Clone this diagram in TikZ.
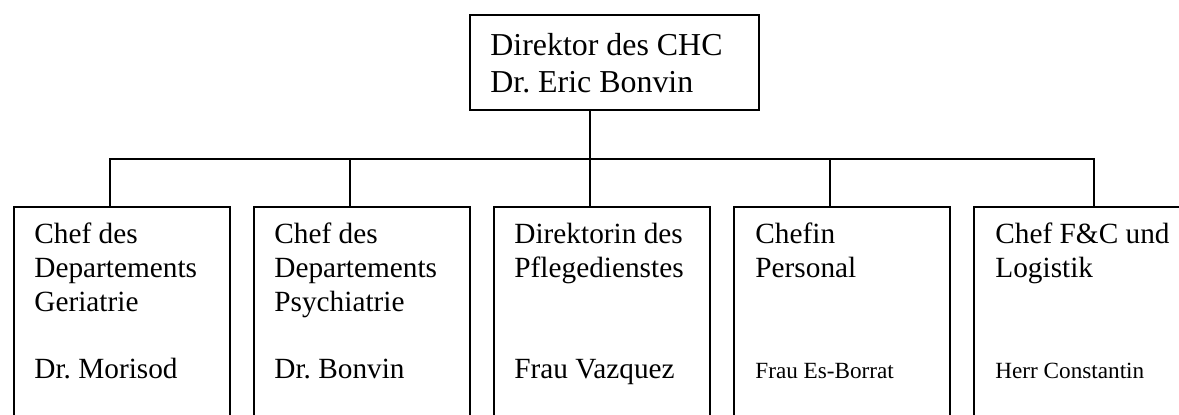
\documentclass[tikz,border=0pt]{standalone}
\usepackage{fontspec}
\setmainfont{Liberation Serif}
\begin{document}
\frenchspacing
\begin{tikzpicture}[x=0.5pt,y=-0.5pt,
  box/.style={draw,line width=1pt,inner sep=0pt,outer sep=0pt,anchor=north west,minimum width=108pt,minimum height=115pt},
  topbox/.style={draw,line width=1pt,inner sep=0pt,outer sep=0pt,anchor=north west,minimum width=144.5pt,minimum height=47.5pt},
  conn/.style={line width=1pt},
  txt/.style={anchor=base west,inner sep=0pt,font=\frenchspacing\fontsize{14.65}{17}\selectfont},
  toptxt/.style={anchor=base west,inner sep=0pt,font=\frenchspacing\fontsize{15.95}{18}\selectfont},
  smalltxt/.style={anchor=base west,inner sep=0pt,font=\frenchspacing\fontsize{11.6}{14}\selectfont}]
\useasboundingbox (0,0) rectangle (1179,414);
\clip (0,0) rectangle (1179,414);
% boxes
\node[topbox] (dir) at (470,15) {};
\node[box] (b1) at (14,207) {};
\node[box] (b2) at (254,207) {};
\node[box] (b3) at (494,207) {};
\node[box] (b4) at (734,207) {};
\node[box] (b5) at (974,207) {};
% connector coordinates
\coordinate (bus) at (590,159);
\coordinate (s1) at (110,159);
\coordinate (s2) at (350,159);
\coordinate (s3) at (590,159);
\coordinate (s4) at (830,159);
\coordinate (s5) at (1094,159);
\draw[conn] (dir.south -| bus) -- (bus);
\draw[conn] (b1.north -| s1) -- (s1) -- (s5) -- (b5.north -| s5);
\draw[conn] (s2) -- (b2.north -| s2);
\draw[conn] (s3) -- (b3.north -| s3);
\draw[conn] (s4) -- (b4.north -| s4);
% texts
\node[toptxt] (d1) at (490,55) {Direktor des CHC};
\node[toptxt] (d2) at (490,92) {Dr. Eric Bonvin};
\node[txt] (a1) at (34,243) {Chef des};
\node[txt] (a2) at (34,277) {Departements};
\node[txt] (a3) at (34,311) {Geriatrie};
\node[txt] (a4) at (34,378) {Dr. Morisod};
\node[txt] (p1) at (274,243) {Chef des};
\node[txt] (p2) at (274,277) {Departements};
\node[txt] (p3) at (274,311) {Psychiatrie};
\node[txt] (p4) at (274,378) {Dr. Bonvin};
\node[txt] (c1) at (514,243) {Direktorin des};
\node[txt] (c2) at (514,277) {Pflegedienstes};
\node[txt] (c4) at (514,378) {Frau Vazquez};
\node[txt] (e1) at (755,243) {Chefin};
\node[txt] (e2) at (755,277) {Personal};
\node[smalltxt] (e4) at (755,378) {Frau Es-Borrat};
\node[txt] (f1) at (995,243) {Chef F\&C und};
\node[txt] (f2) at (995,277) {Logistik};
\node[smalltxt] (f4) at (995,378) {Herr Constantin};
\end{tikzpicture}
\end{document}
